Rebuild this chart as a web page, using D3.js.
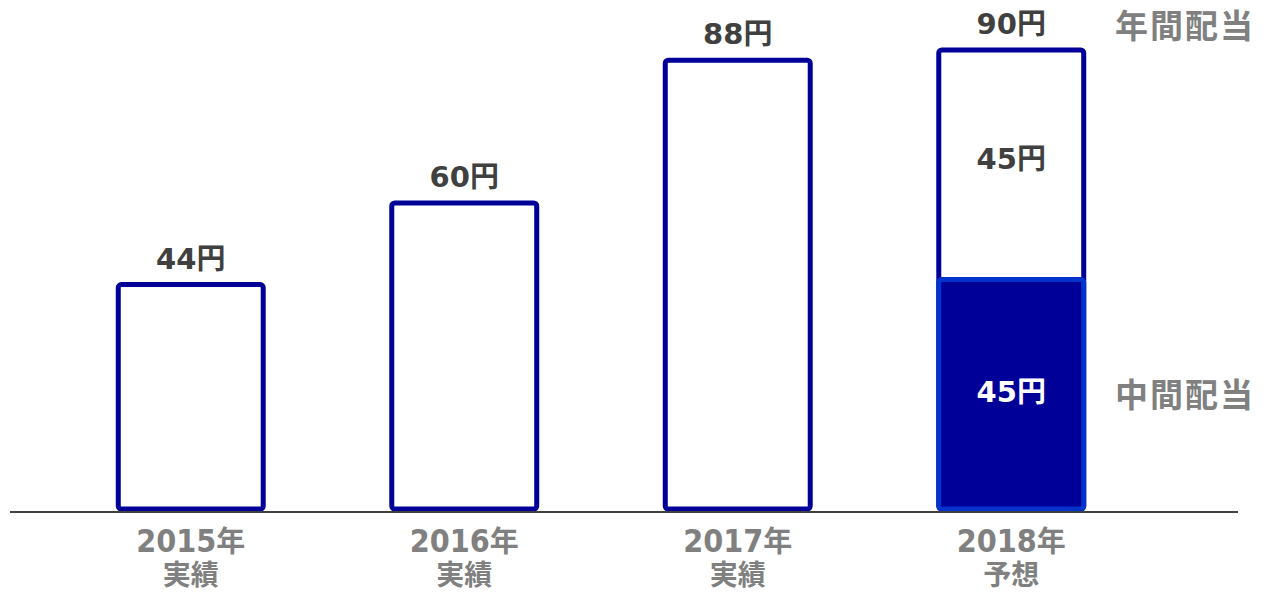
<!DOCTYPE html>
<html><head><meta charset="utf-8">
<script src="https://cdn.jsdelivr.net/npm/d3@7/dist/d3.min.js"></script>
<style>body{margin:0;background:#fff}svg{display:block}</style>
</head><body>
<script>
const categories = ["2015年", "2016年", "2017年", "2018年"];
const subLabels = ["実績", "実績", "実績", "予想"];
const annualValues = [44, 60, 88, 90];
const interimValues = [null, null, null, 45];
const finalValues = [null, null, null, 45];
const unit = "円";
const sideLabels = ["年間配当", "中間配当"];

const W = 1268, H = 594;
const cjk = "'Noto Sans CJK JP', sans-serif";
const num = "'DejaVu Sans', sans-serif";
const numC = "'DejaVu Sans Condensed', 'DejaVu Sans', sans-serif";
const svg = d3.select("body").append("svg").attr("width", W).attr("height", H);

const x = d3.scaleBand().domain(categories).range([54, 1148]).paddingInner(0.47).paddingOuter(0.235);
const y = d3.scaleLinear().domain([0, 90]).range([509, 50]);
const navy = "#000099", bright = "#0033cc";

// annual bars (outline)
svg.selectAll("rect.annual").data(categories).join("rect")
  .attr("x", d => x(d)).attr("width", x.bandwidth())
  .attr("y", (d, i) => y(annualValues[i]))
  .attr("height", (d, i) => y(0) - y(annualValues[i]))
  .attr("rx", 3).attr("fill", "#fff").attr("stroke", navy).attr("stroke-width", 5);

// interim segment
const interimCats = categories.filter((d, i) => interimValues[i] != null);
svg.selectAll("rect.interim").data(interimCats).join("rect")
  .attr("x", d => x(d)).attr("width", x.bandwidth())
  .attr("y", d => y(interimValues[categories.indexOf(d)]))
  .attr("height", d => y(0) - y(interimValues[categories.indexOf(d)]))
  .attr("rx", 3).attr("fill", navy).attr("stroke", bright).attr("stroke-width", 5);

function valueText(sel, v, color) {
  sel.attr("text-anchor", "middle").attr("font-weight", "bold").attr("fill", color);
  sel.append("tspan").attr("font-family", num).attr("font-size", 29).text(v);
  sel.append("tspan").attr("font-family", cjk).attr("font-size", 29).text(unit);
}

// top labels
categories.forEach((c, i) => {
  const t = svg.append("text").attr("x", x(c) + x.bandwidth() / 2).attr("y", y(annualValues[i]) - 16);
  valueText(t, annualValues[i], "#404040");
});

// segment labels
categories.forEach((c, i) => {
  if (interimValues[i] == null) return;
  const cx = x(c) + x.bandwidth() / 2;
  const t1 = svg.append("text").attr("x", cx).attr("y", (y(0) + y(interimValues[i])) / 2 + 8);
  valueText(t1, interimValues[i], "#ffffff");
  const t2 = svg.append("text").attr("x", cx).attr("y", (y(interimValues[i]) + y(annualValues[i])) / 2 + 4);
  valueText(t2, finalValues[i], "#404040");
});

// axis line
svg.append("line").attr("x1", 10).attr("x2", 1238).attr("y1", y(0) + 3).attr("y2", y(0) + 3)
  .attr("stroke", "#404040").attr("stroke-width", 2);

// category labels
categories.forEach((c, i) => {
  const cx = x(c) + x.bandwidth() / 2;
  const t = svg.append("text").attr("x", cx).attr("y", 552).attr("text-anchor", "middle")
    .attr("font-weight", "bold").attr("fill", "#808080");
  t.append("tspan").attr("font-family", numC).attr("font-size", 32).text(c.replace("年", ""));
  t.append("tspan").attr("font-family", cjk).attr("font-size", 29).text("年");
  svg.append("text").attr("x", cx).attr("y", 585).attr("text-anchor", "middle")
    .attr("font-family", cjk).attr("font-weight", "bold").attr("font-size", 28)
    .attr("fill", "#808080").text(subLabels[i]);
});

// side labels
svg.append("text").attr("x", 1255).attr("y", 38).attr("text-anchor", "end").attr("letter-spacing", 2)
  .attr("font-family", cjk).attr("font-weight", "bold").attr("font-size", 33).attr("fill", "#808080").text(sideLabels[0]);
svg.append("text").attr("x", 1255).attr("y", 407).attr("text-anchor", "end").attr("letter-spacing", 2)
  .attr("font-family", cjk).attr("font-weight", "bold").attr("font-size", 33).attr("fill", "#808080").text(sideLabels[1]);
</script>
</body></html>
